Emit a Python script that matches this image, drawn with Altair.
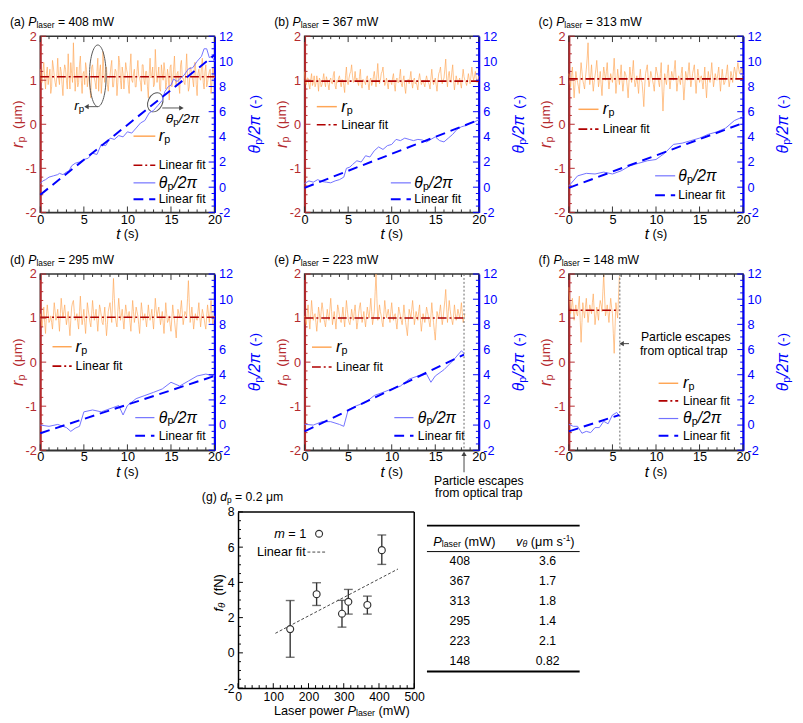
import altair as alt
import pandas as pd

# ---------------- data ----------------
POWERS = ["408", "367", "313", "295", "223", "148"]
LETTERS = ["a", "b", "c", "d", "e", "f"]

# r_p samples every 0.1 s: even samples (t = 0, 0.2, ...) and odd samples (t = 0.1, 0.3, ...)
RP_A_EVEN = [1.25,0.95,1.40,0.80,1.30,1.05,0.70,1.45,1.10,0.85,
             1.50,0.90,1.20,0.65,1.35,1.00,1.60,0.80,1.15,1.85,
             0.75,1.30,0.95,1.55,0.70,1.20,1.40,0.85,1.10,0.60,
             1.35,1.05,0.80,1.50,1.20,0.70,1.65,0.95,1.30,0.75,
             1.10,1.45,0.85,1.25,0.65,1.55,1.00,1.30,0.80,1.40,
             1.15,0.70,1.60,0.95,1.25,0.85,1.45,1.05,0.75,1.35,
             0.90,1.20,0.60,1.50,1.10,0.85,1.70,0.95,1.30,0.75,
             1.15,1.40,0.80,1.25,0.55,1.35,1.00,1.55,0.85,1.20,
             0.70,1.45,1.05,0.90,1.60,0.75,1.30,1.10,0.85,1.40,
             0.65,1.25,1.00,1.50,0.80,1.35,0.95,1.20,0.70,1.30,1.05]
RP_A_ODD = [1.00,1.20,1.05,1.15,0.90,1.25,0.85,1.30,0.95,1.10,
            1.05,1.30,0.90,1.15,1.25,0.80,1.10,1.40,0.95,1.20,
            1.05,0.85,1.35,1.00,1.15,0.90,1.25,1.05,0.80,1.30,
            1.10,0.95,1.20,0.75,1.35,1.00,1.15,1.25,0.90,1.05,
            1.30,0.85,1.10,1.20,0.95,1.40,0.80,1.15,1.05,1.25,
            0.90,1.30,1.00,1.15,0.85,1.20,1.10,0.95,1.35,1.00,
            1.20,0.85,1.15,1.05,1.30,0.90,1.25,1.10,0.80,1.35,
            1.00,1.20,0.95,1.10,1.30,0.85,1.25,1.00,1.15,0.90,
            1.35,1.05,0.95,1.20,1.10,0.85,1.25,1.00,1.40,0.90,
            1.15,1.05,1.30,0.95,1.20,0.85,1.10,1.25,0.95,1.15]
RP_B_EVEN = [1.20,0.90,1.05,0.80,1.15,0.95,0.85,1.10,0.75,1.00,
             0.90,1.15,0.85,1.00,0.78,1.05,0.92,1.20,0.80,0.95,
             1.10,0.85,1.00,0.72,1.30,0.90,1.15,1.35,0.95,1.20,
             1.05,0.88,1.25,0.82,1.00,0.90,1.10,0.78,1.05,0.95,
             1.20,0.85,1.38,0.92,1.15,1.30,0.88,1.05,0.80,1.00,
             0.90,1.15,0.75,1.05,0.95,1.25,0.85,1.10,0.70,1.00,
             0.92,1.20,0.82,1.05,0.95,0.78,1.15,0.90,1.00,0.85,
             1.10,0.95,0.80,1.25,0.90,1.05,0.75,1.15,1.30,0.92,
             1.05,1.48,0.85,1.20,0.95,1.35,0.78,1.10,0.90,1.05,
             0.82,1.25,1.00,0.88,1.15,0.92,1.30,1.00,1.20,0.95,1.10]
RP_B_ODD = [0.95,1.05,0.90,1.00,0.88,1.10,0.92,0.98,1.05,0.85,
            1.02,0.95,1.08,0.90,1.00,0.93,1.12,0.88,1.00,1.05,
            0.95,1.02,0.88,1.10,0.97,1.05,1.20,1.10,1.02,0.98,
            0.95,1.08,0.90,1.02,0.96,1.05,0.92,1.00,0.88,1.08,
            1.00,1.12,1.05,1.00,1.20,1.05,0.95,0.92,1.00,0.96,
            1.05,0.90,1.00,0.95,1.08,0.92,1.00,0.85,0.95,1.02,
            1.05,0.95,1.00,0.92,0.88,1.02,1.00,0.95,0.92,1.00,
            1.00,0.90,1.05,1.02,0.98,0.90,0.98,1.20,1.05,1.00,
            1.25,1.05,1.10,1.00,1.18,1.00,0.95,1.00,0.98,0.92,
            1.05,1.08,0.95,1.00,1.02,1.10,1.12,1.08,1.05,1.00]
RP_C_EVEN = [1.15,0.85,1.30,0.60,1.20,0.95,0.70,1.40,1.00,0.80,
             1.25,1.85,0.90,1.35,0.75,1.10,1.45,0.85,1.20,0.65,
             1.30,1.00,1.40,0.80,1.15,0.95,1.50,0.70,1.25,0.90,
             1.35,0.75,1.20,1.05,0.60,1.30,0.95,1.45,0.85,1.10,
             0.70,1.25,0.95,0.40,1.15,1.35,0.85,1.20,1.00,0.75,
             1.30,1.10,0.85,1.40,0.30,1.15,0.90,1.35,0.80,1.20,
             1.00,1.45,0.75,1.10,0.90,1.30,0.55,1.20,1.00,1.40,
             0.85,1.15,1.35,0.70,1.25,0.95,1.10,0.80,1.30,0.60,
             1.20,0.95,1.40,0.85,1.15,1.00,1.30,0.75,1.25,0.90,
             1.05,1.35,0.85,1.20,0.95,1.30,1.05,1.40,1.15,1.30,1.10]
RP_C_ODD = [1.00,1.10,0.95,0.90,1.05,0.85,1.10,1.20,0.90,1.05,
            1.50,1.20,1.10,1.00,0.95,1.25,1.15,1.00,0.90,1.05,
            1.15,1.20,1.05,1.00,1.05,1.20,1.10,0.95,1.05,1.10,
            1.00,0.95,1.15,0.85,0.95,1.10,1.20,1.05,0.95,0.90,
            1.05,1.00,0.70,0.85,1.25,1.05,1.00,1.10,0.90,1.05,
            1.20,0.95,1.15,0.80,0.75,1.00,1.15,1.05,1.00,1.10,
            1.25,1.05,0.95,1.00,1.15,0.90,0.85,1.10,1.20,1.10,
            1.00,1.25,1.00,1.00,1.10,1.05,0.95,1.05,0.90,0.95,
            1.05,1.15,1.10,1.00,1.05,1.15,1.00,1.00,1.05,0.95,
            1.20,1.05,1.00,1.10,1.15,1.20,1.25,1.25,1.20,1.15]
RP_D_EVEN = [1.10,0.80,1.25,0.65,1.30,0.90,1.05,0.75,1.35,0.95,
             1.20,0.70,1.45,1.00,1.30,0.85,1.15,0.60,1.25,1.40,
             0.95,1.10,0.75,1.50,0.85,1.20,0.65,1.35,1.05,0.80,
             1.40,0.95,1.20,0.70,1.30,1.05,0.85,1.25,0.60,1.15,
             1.35,0.90,1.90,1.05,0.80,1.45,0.95,1.20,0.75,1.30,
             1.00,1.15,0.70,1.40,0.90,1.25,1.05,0.65,1.35,0.95,
             1.10,0.80,1.30,0.95,1.20,0.75,1.45,1.00,1.25,0.85,
             1.15,0.65,1.35,0.90,1.05,0.70,1.30,0.95,0.55,1.20,
             1.00,1.40,0.85,1.15,1.05,1.85,0.90,1.25,0.75,1.10,
             0.95,1.35,0.80,1.20,1.00,0.75,1.30,0.90,1.40,0.85,1.05]
RP_D_ODD = [0.95,1.00,0.90,1.05,1.10,0.95,0.90,1.05,1.15,1.05,
            0.95,1.10,1.20,1.15,1.05,1.00,0.85,0.95,1.35,1.15,
            1.00,0.90,1.15,1.10,1.00,0.90,1.00,1.20,0.90,1.10,
            1.15,1.05,0.95,1.00,1.20,0.90,1.05,0.90,0.85,1.25,
            1.10,1.40,1.45,0.90,1.15,1.20,1.05,0.95,1.05,1.15,
            1.05,0.90,1.05,1.15,1.05,1.15,0.85,1.00,1.15,1.00,
            0.95,1.05,1.10,1.05,0.95,1.10,1.20,1.15,1.05,1.00,
            0.90,1.00,1.10,0.95,0.85,1.00,1.10,0.75,0.90,1.10,
            1.20,1.10,1.00,1.10,1.45,1.35,1.05,1.00,0.95,1.00,
            1.15,1.05,1.00,1.10,0.85,1.05,1.10,1.15,1.10,0.95]
RP_E_EVEN = [1.05,0.85,1.30,0.75,1.40,0.95,1.10,0.70,1.25,0.90,
             1.35,1.00,0.80,1.20,0.95,1.45,0.85,1.15,0.75,1.30,
             1.05,0.90,1.25,0.80,1.40,1.00,0.85,1.20,0.95,1.30,
             0.75,1.10,1.35,0.90,1.15,0.80,1.25,1.00,1.45,0.85,
             1.15,2.00,0.95,1.30,1.05,0.80,1.40,1.00,1.20,0.90,
             1.35,0.95,1.10,0.75,1.25,1.05,0.85,1.30,0.90,0.60,
             1.20,1.00,1.40,0.85,1.15,0.95,1.30,0.70,1.10,0.90,
             1.25,1.05,0.80,1.35,0.90,0.50,1.15,1.00,1.30,0.85,
             1.20,1.65,0.90,1.40,1.05,0.85,1.30,0.95,1.20,1.00,
             1.35,0.90,1.10]
RP_E_ODD = [0.95,1.10,1.00,1.05,1.15,1.05,0.90,0.95,1.10,1.15,
            1.20,0.90,1.00,1.05,1.20,1.15,1.00,0.95,1.05,1.20,
            0.95,1.05,1.00,1.10,1.20,0.90,1.00,1.05,1.15,1.00,
            0.90,1.25,1.10,1.00,0.95,1.05,1.10,1.20,1.15,1.00,
            1.60,1.45,1.10,1.15,0.90,1.10,1.20,1.10,1.05,1.15,
            1.10,1.05,0.90,1.00,1.15,0.95,1.05,1.10,0.75,0.90,
            1.10,1.20,1.15,1.00,1.05,1.15,0.95,0.90,1.00,1.05,
            1.15,0.90,1.05,1.10,0.70,0.85,1.05,1.15,1.05,1.00,
            1.40,1.25,1.15,1.20,0.95,1.05,1.10,1.05,1.10,1.15,
            1.10,1.00]
RP_F_EVEN = [1.70,1.10,1.45,0.95,1.30,1.05,1.50,0.45,1.35,1.00,
             1.45,0.90,1.30,1.10,1.55,0.85,1.25,0.95,1.40,1.15,
             2.00,1.05,1.30,0.90,1.45,1.10,0.20,1.35,1.00,1.95]
RP_F_ODD = [1.35,1.25,1.20,1.15,1.10,1.30,0.95,0.90,1.15,1.25,
            1.15,1.10,1.20,1.35,1.20,1.05,1.10,1.25,1.30,1.60,
            1.50,1.15,1.10,1.20,1.25,0.65,0.80,1.15,1.50]
R_FIT = [(0, 20, 1.08), (0, 20, 0.98), (0, 20, 1.03), (0, 20, 1.02), (0, 18.3, 1.00), (0, 5.8, 1.18)]

TH_A_T = [0,0.3,0.6,1,1.5,2,2.2,2.6,3,3.3,3.6,4,4.5,5,5.5,6,6.5,7,7.5,8,8.5,9,9.5,10,10.5,11,11.5,12,12.5,
          13,13.5,14,14.3,14.7,15,15.3,15.7,16,16.5,17,17.5,18,18.5,18.8,19.1,19.4,19.7,20]
TH_A_V = [0.3,0.5,0.6,0.8,0.9,1.0,1.1,1.0,1.2,1.3,1.7,1.9,2.0,2.2,2.3,2.7,2.6,3.4,3.3,3.9,3.8,4.1,4.0,4.4,4.3,
          4.7,5.1,5.3,5.9,6.1,6.5,6.9,7.6,8.0,8.1,8.6,8.4,8.6,8.9,9.4,9.5,10.0,10.4,11.0,11.0,10.3,10.4,10.0]
TH_B_T = [0,0.5,1,1.5,2,2.5,3,3.5,4,4.5,4.8,5.2,5.5,6,6.5,7,7.5,8,8.5,9,9.5,10,10.5,11,11.5,12,12.5,13,
          13.5,14,14.5,15,15.5,16,16.5,17,17.5,18,18.5,19,19.5,20]
TH_B_V = [0.3,0.5,0.4,0.6,0.45,0.4,0.35,0.5,0.6,0.8,1.5,1.6,1.8,2.1,2.0,2.5,2.4,2.9,3.2,3.0,3.3,3.4,3.8,3.7,
          3.9,3.8,3.7,3.8,3.75,3.6,3.8,4.0,3.7,3.6,3.9,4.2,4.6,4.8,4.9,5.1,5.2,5.35]
TH_C_T = [0,0.5,1,2,3,4,5,6,7,8,9,10,11,12,13,14,15,16,17,18,19,20]
TH_C_V = [0.1,0.5,0.9,1.1,1.05,1.2,1.05,1.3,1.7,1.9,2.1,2.2,2.7,3.4,3.5,3.7,3.9,4.2,4.4,4.7,5.3,5.6]
TH_D_T = [0,1,2,3,3.5,4,4.5,5,6,7,8,9,9.5,10,11,12,13,14,15,16,17,18,19,20]
TH_D_V = [0.0,-0.1,0.05,-0.2,-0.5,-0.25,-0.1,1.05,1.2,1.05,1.3,1.55,0.8,1.55,2.1,2.35,2.6,2.87,3.4,3.1,3.5,3.9,4.05,3.9]
TH_E_T = [0,1,2,3,4,4.5,5,6,7,8,9,10,11,12,13,14,14.5,15,16,17,18,18.3]
TH_E_V = [0.06,0.0,0.27,0.27,0.05,-0.1,1.2,1.55,1.8,2.35,2.6,2.87,3.1,3.65,3.9,4.05,3.4,3.9,4.4,5.1,5.9,5.7]
TH_F_T = [0,0.5,1,1.5,2,2.5,3,3.5,4,4.5,5,5.5,5.8]
TH_F_V = [0.06,-0.1,-0.1,-0.65,-0.5,-0.6,-0.2,-0.2,0.3,0.1,0.8,1.0,0.7]
TH_FIT = [([0, 20], [-0.6, 10.5]), ([0, 20], [-0.05, 5.35]), ([0, 20], [-0.05, 5.1]),
          ([0, 20], [-0.65, 3.9]), ([0, 18.3], [-0.5, 5.6]), ([0, 5.8], [-0.5, 0.8])]

# panel (g)
G_P = [148, 223, 295, 313, 367, 408]
G_F = [1.35, 3.33, 2.22, 2.90, 2.72, 5.83]
G_LO = [-0.25, 2.69, 1.46, 2.20, 2.20, 5.02]
G_HI = [2.97, 3.98, 2.98, 3.60, 3.22, 6.69]
G_FIT_X = [106, 454]
G_FIT_Y = [1.11, 4.76]
TAB_P = ["408", "367", "313", "295", "223", "148"]
TAB_V = ["3.6", "1.7", "1.8", "1.4", "2.1", "0.82"]

# ---------------- style ----------------
FONT = "Liberation Sans"
RED = "#b52a2e"
ORANGE = "#ffa656"
FITRED = "#b00000"
BLUE = "#0000ff"
LBLUE = "#7272ff"
GRAY = "#333333"
W, H = 178, 180
GX0 = 202  # left edge of panel (g) plot inside its grid cell

AW = {' ': 278, '(': 333, ')': 333, '-': 333, '.': 278, '/': 278, '=': 584, 'a': 556, 'b': 556,
      'c': 500, 'd': 556, 'e': 556, 'f': 278, 'g': 556, 'h': 556, 'i': 222, 'l': 222, 'm': 833,
      'n': 556, 'o': 556, 'p': 556, 'r': 333, 's': 500, 't': 278, 'u': 556, 'v': 500, 'w': 722,
      'x': 500, 'y': 500, 'L': 556, 'P': 667, 'W': 944, 'θ': 556, 'π': 600, 'μ': 576}


def tw(s, size):
    return sum(AW.get(c, 556) for c in s) * size / 1000.0


def interleave(even, odd):
    out = []
    for k, v in enumerate(even):
        out.append(v)
        if k < len(odd):
            out.append(odd[k])
    return out


ONE = pd.DataFrame({'a': [0]})


def rich(pieces, x, y, align='left', angle=0, color='black', X=None, Y=None):
    widths = [tw(p[0], p[1]) for p in pieces]
    total = sum(widths)
    cum = {'left': 0.0, 'center': -total / 2, 'right': -total}[align]
    out = []
    for (text, size, italic, shift), w in zip(pieces, widths):
        lead = len(text) - len(text.lstrip(' '))
        shown = text.strip(' ')
        off = cum + tw(' ' * lead, size)
        kw = dict(text=shown, fontSize=size, font=FONT, align='left', baseline='middle',
                  color=color, dx=round(off, 2), dy=shift)
        if italic:
            kw['fontStyle'] = 'italic'
        if angle:
            kw['angle'] = angle
        if X is None:
            out.append(alt.Chart(ONE).mark_text(**kw).encode(x=alt.value(x), y=alt.value(y)))
        else:
            out.append(alt.Chart(pd.DataFrame({'x': [x], 'y': [y]})).mark_text(**kw).encode(x=X, y=Y))
        cum += w
    return out


def ax(**kw):
    base = dict(grid=False, ticks=False, tickSize=0, title=None, labelFont=FONT, labelFontSize=13,
                labelOverlap=False, labelFlush=False, labelExpr="'' + datum.value")
    base.update(kw)
    return alt.Axis(**base)


X = alt.X('x:Q', scale=alt.Scale(domain=[0, 20], nice=False, zero=False),
          axis=ax(orient='bottom', values=[0, 5, 10, 15, 20], labelColor='black', domainColor=GRAY,
                  domainWidth=1.5, labelPadding=1))
X2 = alt.X2('x2')
YR = alt.Y('y:Q', scale=alt.Scale(domain=[-2, 2], nice=False, zero=False),
           axis=ax(orient='left', values=[-2, -1, 0, 1, 2], labelColor=RED, domainColor=RED,
                   domainWidth=2, labelPadding=4))
YT = alt.Y('y:Q', scale=alt.Scale(domain=[-2, 12], nice=False, zero=False),
           axis=ax(orient='right', values=[-2, 0, 2, 4, 6, 8, 10, 12], labelColor=BLUE,
                   domainColor=BLUE, domainWidth=2, labelPadding=4))
Y2 = alt.Y2('y2')

X_MAJOR = [0, 5, 10, 15, 20]
X_MINOR = [i for i in range(21) if i % 5]
R_MAJOR = [-2, -1, 0, 1, 2]
R_MINOR = [round(-2 + 0.2 * i, 1) for i in range(21) if i % 5]
T_MAJOR = [-2, 0, 2, 4, 6, 8, 10, 12]
T_MINOR = [-2 + 0.5 * i for i in range(29) if i % 4]


def yticks(vals, Y, x0, x1, color):
    return alt.Chart(pd.DataFrame({'y': vals})).mark_rule(color=color, strokeWidth=1).encode(
        y=Y, x=alt.value(x0), x2=alt.value(x1))


def xticks(vals, Xe, y0, y1, color):
    return alt.Chart(pd.DataFrame({'x': vals})).mark_rule(color=color, strokeWidth=1).encode(
        x=Xe, y=alt.value(y0), y2=alt.value(y1))


def seg(x1, x2, y, **style):
    return alt.Chart(pd.DataFrame({'x': [x1], 'x2': [x2], 'y': [y]})).mark_rule(**style).encode(
        x=X, x2=X2, y=YR)


def arrowhead(x, y, shape):
    return alt.Chart(pd.DataFrame({'x': [x], 'y': [y]})).mark_point(
        shape=shape, filled=True, size=28, color='#444', opacity=1).encode(x=X, y=YR)


def label(text, x, y, align='left', size=12.5):
    return alt.Chart(pd.DataFrame({'x': [x], 'y': [y], 't': [text]})).mark_text(
        font=FONT, fontSize=size, align=align, baseline='middle', color='black').encode(
        x=X, y=YR, text='t:N')


LEG_STYLE = {
    'r': dict(color=ORANGE, strokeWidth=1.5),
    'rfit': dict(color=FITRED, strokeWidth=1.6, strokeDash=[9, 3, 2, 3]),
    'th': dict(color=LBLUE, strokeWidth=1.2),
    'thfit': dict(color=BLUE, strokeWidth=2, strokeDash=[10, 6]),
}
LEG_TEXT = {
    'r': [("r", 17, True, 0), ("p", 11, False, 4)],
    'rfit': [("Linear fit", 12.5, False, 0)],
    'th': [("θ", 16, True, 0), ("p", 11, False, 4), ("/2π", 16, True, 0)],
    'thfit': [("Linear fit", 12.5, False, 0)],
}

LEGENDS = [
    [('r', 10.7, 13.2, 13.6, -0.27), ('rfit', 10.7, 13.2, 13.6, -0.93),
     ('th', 10.7, 13.2, 13.6, -1.33), ('thfit', 10.7, 13.2, 13.6, -1.70)],
    [('r', 1.4, 3.7, 4.2, 0.40), ('rfit', 1.4, 3.7, 4.2, -0.01),
     ('th', 9.9, 12.2, 12.6, -1.33), ('thfit', 9.9, 12.2, 12.6, -1.70)],
    [('r', 1.1, 3.4, 3.9, 0.34), ('rfit', 1.1, 3.4, 3.9, -0.11),
     ('th', 9.9, 12.2, 12.55, -1.17), ('thfit', 9.9, 12.2, 12.55, -1.61)],
    [('r', 1.4, 3.6, 4.05, 0.35), ('rfit', 1.4, 3.6, 4.05, -0.09),
     ('th', 10.9, 13.1, 13.6, -1.26), ('thfit', 10.9, 13.1, 13.6, -1.67)],
    [('r', 0.85, 3.1, 3.6, 0.34), ('rfit', 0.85, 3.1, 3.6, -0.11),
     ('th', 10.3, 12.5, 13.0, -1.26), ('thfit', 10.3, 12.5, 13.0, -1.67)],
    [('r', 10.3, 12.55, 13.1, -0.48), ('rfit', 10.3, 12.55, 13.1, -0.88),
     ('th', 10.3, 12.55, 13.1, -1.28), ('thfit', 10.3, 12.55, 13.1, -1.67)],
]

RPS = [interleave(RP_A_EVEN, RP_A_ODD), interleave(RP_B_EVEN, RP_B_ODD), interleave(RP_C_EVEN, RP_C_ODD),
       interleave(RP_D_EVEN, RP_D_ODD), interleave(RP_E_EVEN, RP_E_ODD), interleave(RP_F_EVEN, RP_F_ODD)]
THS = [(TH_A_T, TH_A_V), (TH_B_T, TH_B_V), (TH_C_T, TH_C_V), (TH_D_T, TH_D_V),
       (TH_E_T, TH_E_V), (TH_F_T, TH_F_V)]

ELL_TALL = "M0,-1A0.27,1,0,1,1,0,1A0.27,1,0,1,1,0,-1Z"
ELL_SMALL = "M0,-1A0.72,1,0,1,1,0,1A0.72,1,0,1,1,0,-1Z"


def extras(i):
    L = []
    if i == 0:
        L.append(alt.Chart(pd.DataFrame({'x': [6.6], 'y': [1.1]})).mark_point(
            shape=ELL_TALL, size=3969, filled=False, color='#555', strokeWidth=1, opacity=1).encode(x=X, y=YR))
        L.append(seg(5.3, 6.6, 0.40, color='#555', strokeWidth=1))
        L.append(arrowhead(5.3, 0.40, 'triangle-left'))
        L += rich([("r", 14, True, 0), ("p", 10, False, 3)], 3.9, 0.42, X=X, Y=YR)
        L.append(alt.Chart(pd.DataFrame({'x': [13.2], 'y': [0.5]})).mark_point(
            shape=ELL_SMALL, size=420, angle=25, filled=False, color='#555', strokeWidth=1, opacity=1).encode(x=X, y=YR))
        L.append(seg(14.0, 16.2, 0.37, color='#555', strokeWidth=1))
        L.append(arrowhead(16.2, 0.37, 'triangle-right'))
        L += rich([("θ", 14, True, 0), ("p", 10, False, 3), ("/2π", 14, True, 0)], 14.4, 0.12, X=X, Y=YR)
    if i == 4:
        L.append(alt.Chart(pd.DataFrame({'x': [18.3]})).mark_rule(
            color='#666', strokeWidth=1, strokeDash=[2, 2]).encode(x=X, y=alt.value(0), y2=alt.value(H)))
        L.append(alt.Chart(pd.DataFrame({'x': [18.3], 'y': [-2.5], 'y2': [-2.08]})).mark_rule(
            color='#444', strokeWidth=1).encode(x=X, y=YR, y2=Y2))
        L.append(arrowhead(18.3, -2.08, 'triangle-up'))
        L.append(label("Particle escapes", 20, -2.69, align='center'))
        L.append(label("from optical trap", 20, -2.98, align='center'))
    if i == 5:
        L.append(alt.Chart(pd.DataFrame({'x': [5.85]})).mark_rule(
            color='#666', strokeWidth=1, strokeDash=[2, 2]).encode(x=X, y=alt.value(0), y2=alt.value(H)))
        L.append(seg(6.05, 6.9, 0.42, color='#444', strokeWidth=1))
        L.append(arrowhead(6.05, 0.42, 'triangle-left'))
        L.append(label("Particle escapes", 8.27, 0.56))
        L.append(label("from optical trap", 8.16, 0.25))
    return L


def panel(i):
    rv = RPS[i]
    rdf = pd.DataFrame({'x': [round(k * 0.1, 1) for k in range(len(rv))], 'y': rv})
    r_layers = [alt.Chart(rdf).mark_line(color=ORANGE, strokeWidth=0.8, opacity=0.85).encode(x=X, y=YR)]
    t0, t1, v = R_FIT[i]
    r_layers.append(seg(t0, t1, v, **LEG_STYLE['rfit']))
    r_layers += [yticks(R_MAJOR, YR, 0, 6, RED), yticks(R_MINOR, YR, 0, 3, RED),
                 xticks(X_MAJOR, X, H, H - 6, GRAY), xticks(X_MINOR, X, H, H - 3, GRAY),
                 xticks(X_MAJOR, X, 0, 6, GRAY), xticks(X_MINOR, X, 0, 3, GRAY)]
    for kind, a, b, tx, ry in LEGENDS[i]:
        r_layers.append(seg(a, b, ry, **LEG_STYLE[kind]))
        r_layers += rich(LEG_TEXT[kind], tx, ry, X=X, Y=YR)
    r_layers += extras(i)
    r_layers += rich([("(%s) " % LETTERS[i], 12.5, False, 0), ("P", 12.5, True, 0),
                      ("laser", 8.5, False, 3), (" = %s mW" % POWERS[i], 12.5, False, 0)], -31, -14)
    r_layers += rich([("r", 17, True, 0), ("p", 11, False, 4), ("  (μm)", 14, False, 0)],
                     -23, H / 2, align='center', angle=270, color=RED)
    r_layers += rich([("θ", 16, True, 0), ("p", 11, False, 4), ("/2π", 16, True, 0), ("  (-)", 14, False, 0)],
                     W + 41, H / 2, align='center', angle=270, color=BLUE)
    r_layers += rich([("t", 15, True, 0), (" (s)", 13, False, 0)], W / 2, H + 22, align='center')

    tt, tv = THS[i]
    fx, fy = TH_FIT[i]
    t_layers = [
        alt.Chart(pd.DataFrame({'x': tt, 'y': tv})).mark_line(color=LBLUE, strokeWidth=1).encode(x=X, y=YT),
        alt.Chart(pd.DataFrame({'x': fx, 'y': fy})).mark_line(color=BLUE, strokeWidth=2, strokeDash=[10, 6]).encode(x=X, y=YT),
        yticks(T_MAJOR, YT, W, W - 6, BLUE), yticks(T_MINOR, YT, W, W - 3, BLUE),
    ]
    return alt.layer(alt.layer(*r_layers), alt.layer(*t_layers)).resolve_scale(y='independent').properties(
        width=W, height=H)


# ---------------- panel (g) + table ----------------
GW, GH = 180, 180
XG = alt.X('x:Q', scale=alt.Scale(domain=[0, 500], range=[GX0, GX0 + GW], nice=False, zero=False),
           axis=ax(orient='bottom', values=[0, 100, 200, 300, 400, 500], labelColor='black',
                   domainColor='black', domainWidth=1.5, labelPadding=3, labelFontSize=12.5))
YG = alt.Y('y:Q', scale=alt.Scale(domain=[-2, 8], nice=False, zero=False),
           axis=ax(orient='left', values=[-2, 0, 2, 4, 6, 8], labelColor='black', domainColor='black',
                   domainWidth=1.5, labelPadding=4, labelFontSize=12.5, offset=-GX0))
G_XMINOR = [20 * i for i in range(26) if i % 5]
G_YMINOR = [-2 + 0.5 * i for i in range(21) if i % 4]


def gchart():
    L = []
    L.append(alt.Chart(pd.DataFrame({'x': [0], 'x2': [500]})).mark_rule(color='black', strokeWidth=1.5).encode(
        x=XG, x2=X2, y=alt.value(0)))
    L.append(alt.Chart(pd.DataFrame({'x': [500]})).mark_rule(color='black', strokeWidth=1.5).encode(
        x=XG, y=alt.value(0), y2=alt.value(GH)))
    L.append(alt.Chart(pd.DataFrame({'x': G_FIT_X, 'y': G_FIT_Y})).mark_line(
        color='#444', strokeWidth=1, strokeDash=[3, 2]).encode(x=XG, y=YG))
    L.append(alt.Chart(pd.DataFrame({'x': G_P, 'y': G_LO, 'y2': G_HI})).mark_rule(
        color='#333', strokeWidth=1.4).encode(x=XG, y=YG, y2=Y2))
    L.append(alt.Chart(pd.DataFrame({'x': G_P + G_P, 'y': G_LO + G_HI})).mark_tick(
        orient='horizontal', size=9, thickness=1.4, color='#333').encode(x=XG, y=YG))
    L.append(alt.Chart(pd.DataFrame({'x': G_P + [230], 'y': G_F + [6.76]})).mark_point(
        shape='circle', filled=True, fill='white', stroke='#333', strokeWidth=1.2, size=50, opacity=1).encode(x=XG, y=YG))
    L += [yticks([-2, 0, 2, 4, 6, 8], YG, GX0, GX0 + 5, 'black'), yticks(G_YMINOR, YG, GX0, GX0 + 3, 'black'),
          xticks([0, 100, 200, 300, 400, 500], XG, GH, GH - 5, 'black'), xticks(G_XMINOR, XG, GH, GH - 3, 'black')]
    L += rich([("m", 13, True, 0), (" = 1", 13, False, 0)], 194, 6.76, align='right', X=XG, Y=YG)
    L += rich([("Linear fit", 13, False, 0)], 192, 5.72, align='right', X=XG, Y=YG)
    L.append(alt.Chart(pd.DataFrame({'x': [197], 'x2': [250], 'y': [5.72]})).mark_rule(
        color='#444', strokeWidth=1, strokeDash=[3, 2]).encode(x=XG, x2=X2, y=YG))
    L += rich([("(g) ", 12.5, False, 0), ("d", 12.5, True, 0), ("p", 8.5, False, 3),
               (" = 0.2 μm", 12.5, False, 0)], GX0 - 37, -15)
    L += rich([("f", 14, True, 0), ("θ", 10, True, 3), ("  (fN)", 13, False, 0)],
              GX0 - 19, 84, align='center', angle=270)
    L += rich([("Laser power ", 13, False, 0), ("P", 13, True, 0), ("laser", 9, False, 3),
               (" (mW)", 13, False, 0)], GX0 + 106, GH + 23, align='center')

    TX = alt.X('x:Q', scale=alt.Scale(domain=[0, 1], range=[GX0 + 193, GX0 + 349]), axis=None)
    TY = alt.Y('y:Q', scale=alt.Scale(domain=[-0.8, 6.5], range=[14, 163]), axis=None)
    TL = []
    TL.append(alt.Chart(pd.DataFrame({'x': [0, 0], 'x2': [1, 1], 'y': [-0.8, 6.5]})).mark_rule(
        color='black', strokeWidth=2).encode(x=TX, x2=X2, y=TY))
    TL.append(alt.Chart(pd.DataFrame({'x': [0], 'x2': [1], 'y': [0.5]})).mark_rule(
        color='black', strokeWidth=1).encode(x=TX, x2=X2, y=TY))
    rows = list(range(1, 7))
    TL.append(alt.Chart(pd.DataFrame({'x': [0.215] * 6, 'y': rows, 't': TAB_P})).mark_text(
        font=FONT, fontSize=12.5, align='center', baseline='middle', color='black').encode(x=TX, y=TY, text='t:N'))
    TL.append(alt.Chart(pd.DataFrame({'x': [0.79] * 6, 'y': rows, 't': TAB_V})).mark_text(
        font=FONT, fontSize=12.5, align='center', baseline='middle', color='black').encode(x=TX, y=TY, text='t:N'))
    TL += rich([("P", 13, True, 0), ("laser", 9, False, 3), (" (mW)", 13, False, 0)], 0.245, 0,
               align='center', X=TX, Y=TY)
    TL += rich([("v", 13, True, 0), ("θ", 9, True, 3), (" (μm s", 13, False, 0), ("-1", 8.5, False, -4),
                (")", 13, False, 0)], 0.775, 0, align='center', X=TX, Y=TY)
    return alt.layer(alt.layer(*L), alt.layer(*TL)).resolve_scale(x='independent', y='independent').properties(
        width=W, height=GH, view=alt.ViewBackground(stroke='transparent'))


panels = [panel(i) for i in range(6)]
chart = alt.concat(*panels, gchart(), columns=3, spacing={'row': 63, 'column': 92},
                   bounds='flush').properties(
    padding={'left': 0, 'top': 0, 'right': 2, 'bottom': 2}, background='white').configure(
    font=FONT, view=alt.ViewConfig(stroke=GRAY, strokeWidth=1.5))

chart.save("out.html", embed_options={"renderer": "svg", "actions": False})
